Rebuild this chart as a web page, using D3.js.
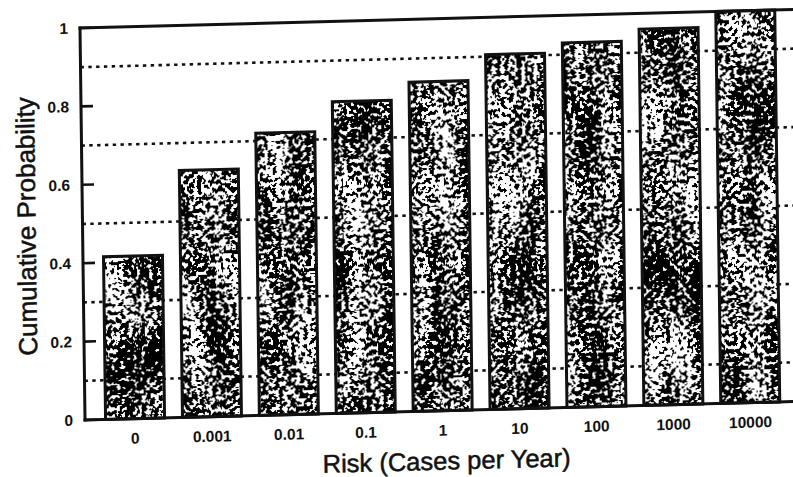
<!DOCTYPE html>
<html>
<head>
<meta charset="utf-8">
<script src="https://cdn.jsdelivr.net/npm/d3@7"></script>
<style>
  html, body { margin: 0; padding: 0; background: #fff; }
  svg { display: block; }
  text { font-family: "Liberation Sans", Arial, Helvetica, sans-serif; fill: #111; }
</style>
</head>
<body>
<svg id="chart" width="793" height="477"></svg>
<script>
// Risk categories (cases per year) and the cumulative probability of each
const categories = ["0", "0.001", "0.01", "0.1", "1", "10", "100", "1000", "10000"];
const cumulativeProbability = [0.415, 0.63, 0.72, 0.795, 0.84, 0.905, 0.93, 0.96, 1.0];

// Labelled y ticks and the dotted reference levels between them
const yTickValues = [0, 0.2, 0.4, 0.6, 0.8, 1];
const yTickLabels = ["0", "0.2", "0.4", "0.6", "0.8", "1"];
const gridLevels = [0.1, 0.3, 0.5, 0.7, 0.9];

const xTitle = "Risk (Cases per Year)";
const yTitle = "Cumulative Probability";

const svg = d3.select("#chart");

// Plot frame (the page is printed slightly askew, so the whole chart is sheared a little)
const plotLeft = 80, plotTop = 28, plotBottom = 420, plotRight = 812;
const shearY = -0.026, shearX = 0.0128;
const ink = "#111";
const rule = 3, tickLen = 12, tickWidth = 2.6;

// Stipple texture for the bar fills: fine grain modulated by a coarse density field
const defs = svg.append("defs");
const f = defs.append("filter")
  .attr("id", "stipple")
  .attr("filterUnits", "userSpaceOnUse")
  .attr("x", plotLeft + 10).attr("y", 0).attr("width", plotRight - plotLeft).attr("height", plotBottom + 10);
f.append("feTurbulence")
  .attr("type", "fractalNoise")
  .attr("baseFrequency", 0.24)
  .attr("numOctaves", 2)
  .attr("seed", 11)
  .attr("result", "fineNoise");
f.append("feColorMatrix")
  .attr("in", "fineNoise")
  .attr("type", "matrix")
  .attr("values", "0 0 0 0 0  0 0 0 0 0  0 0 0 0 0  1 0 0 0 0")
  .attr("result", "fine");
f.append("feTurbulence")
  .attr("type", "fractalNoise")
  .attr("baseFrequency", "0.035 0.012")
  .attr("numOctaves", 2)
  .attr("seed", 5)
  .attr("result", "coarseNoise");
f.append("feColorMatrix")
  .attr("in", "coarseNoise")
  .attr("type", "matrix")
  .attr("values", "0 0 0 0 0  0 0 0 0 0  0 0 0 0 0  1 0 0 0 0")
  .attr("result", "coarse");
f.append("feComposite")
  .attr("in", "fine")
  .attr("in2", "coarse")
  .attr("operator", "arithmetic")
  .attr("k1", 0).attr("k2", 1).attr("k3", 0.45).attr("k4", -0.2)
  .attr("result", "mix");
f.append("feComponentTransfer")
  .attr("in", "mix")
  .attr("result", "dots")
  .append("feFuncA")
  .attr("type", "discrete")
  .attr("tableValues", "0 0 0 0 0 0 0 0 0 0 1 1 1 1 1 1 1 1 1 1");
f.append("feComposite")
  .attr("in", "dots")
  .attr("in2", "SourceAlpha")
  .attr("operator", "in");

const g = svg.append("g")
  .attr("transform", `matrix(1,${shearY},${shearX},1,${-shearX * plotTop},${-shearY * plotLeft})`);

const x = d3.scaleBand()
  .domain(categories)
  .range([91.6, 783.7])
  .paddingInner(0.233)
  .paddingOuter(0.1165);

const y = d3.scaleLinear()
  .domain([0, 1])
  .range([plotBottom, plotTop]);

// Dotted reference levels
g.append("g")
  .selectAll("line")
  .data(gridLevels)
  .join("line")
  .attr("x1", plotLeft).attr("x2", plotRight)
  .attr("y1", d => y(d)).attr("y2", d => y(d))
  .attr("stroke", ink)
  .attr("stroke-width", 2.6)
  .attr("stroke-dasharray", "3.4 4.4");

// Bars: white base, stippled fill, black outline
const bars = categories.map((c, i) => ({ c, v: cumulativeProbability[i] }));

g.append("g")
  .selectAll("rect")
  .data(bars)
  .join("rect")
  .attr("x", d => x(d.c))
  .attr("y", d => y(d.v))
  .attr("width", x.bandwidth())
  .attr("height", d => y(0) - y(d.v))
  .attr("fill", "#fff");

g.append("g")
  .attr("filter", "url(#stipple)")
  .selectAll("rect")
  .data(bars)
  .join("rect")
  .attr("x", d => x(d.c))
  .attr("y", d => y(d.v))
  .attr("width", x.bandwidth())
  .attr("height", d => y(0) - y(d.v))
  .attr("fill", "#000");

g.append("g")
  .selectAll("rect")
  .data(bars)
  .join("rect")
  .attr("x", d => x(d.c))
  .attr("y", d => y(d.v))
  .attr("width", x.bandwidth())
  .attr("height", d => y(0) - y(d.v))
  .attr("fill", "none")
  .attr("stroke", ink)
  .attr("stroke-width", 3);

// Y axis labels (ticks drawn separately, pointing into the plot)
const yAxis = d3.axisLeft(y)
  .tickValues(yTickValues)
  .tickFormat((d, i) => yTickLabels[i])
  .tickSize(0)
  .tickSizeOuter(0)
  .tickPadding(12);

const ya = g.append("g")
  .attr("transform", `translate(${plotLeft},0)`)
  .call(yAxis);
ya.select(".domain").remove();
ya.selectAll(".tick line").remove();
ya.selectAll(".tick text")
  .attr("font-size", 15.5)
  .attr("font-weight", "bold")
  .style("fill", ink);

g.append("g")
  .selectAll("rect")
  .data(yTickValues)
  .join("rect")
  .attr("x", plotLeft)
  .attr("y", d => y(d) - tickWidth / 2)
  .attr("width", tickLen)
  .attr("height", tickWidth)
  .style("fill", ink);

// X axis labels
const xAxis = d3.axisBottom(x)
  .tickSize(0)
  .tickSizeOuter(0)
  .tickPadding(14);

const xa = g.append("g")
  .attr("transform", `translate(0,${plotBottom})`)
  .call(xAxis);
xa.select(".domain").remove();
xa.selectAll(".tick text")
  .attr("font-size", 15.5)
  .attr("font-weight", "bold")
  .style("fill", ink);

// Frame: left axis, bottom and top rules
g.append("rect")
  .attr("x", plotLeft - rule / 2)
  .attr("y", y(1) - rule / 2)
  .attr("width", rule)
  .attr("height", y(0) - y(1) + rule)
  .style("fill", ink);
g.append("rect")
  .attr("x", plotLeft - rule / 2)
  .attr("y", y(0) - rule / 2)
  .attr("width", plotRight - plotLeft + rule / 2)
  .attr("height", rule)
  .style("fill", ink);
g.append("rect")
  .attr("x", plotLeft - rule / 2)
  .attr("y", y(1) - rule / 2)
  .attr("width", plotRight - plotLeft + rule / 2)
  .attr("height", rule)
  .style("fill", ink);

// Axis titles
g.append("text")
  .attr("x", 441)
  .attr("y", 479)
  .attr("text-anchor", "middle")
  .attr("font-size", 25.5)
  .style("stroke", ink)
  .style("stroke-width", 0.5)
  .text(xTitle);

g.append("text")
  .attr("transform", `translate(33,225) rotate(-90)`)
  .attr("text-anchor", "middle")
  .attr("font-size", 26)
  .style("stroke", ink)
  .style("stroke-width", 0.5)
  .text(yTitle);
</script>
</body>
</html>
